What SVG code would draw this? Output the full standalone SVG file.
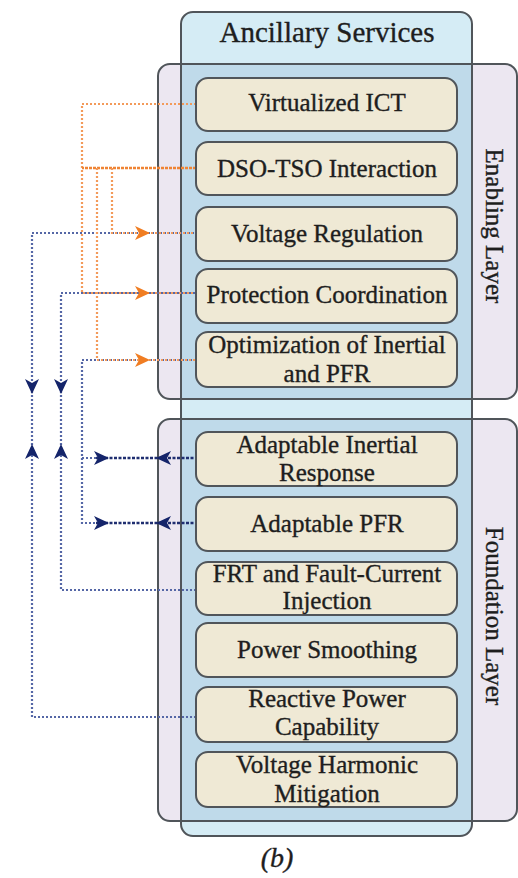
<svg xmlns="http://www.w3.org/2000/svg" xmlns:xlink="http://www.w3.org/1999/xlink" width="518" height="878" viewBox="0 0 518 878" font-family="Liberation Serif, serif">
  <style>
    .lbl { font-family: "Liberation Serif", serif; font-size: 25px; text-anchor: middle; fill: #1e1e1e; stroke: #1e1e1e; stroke-width: 0.35; }
    .node rect { fill: #efe9d5; stroke: #50555a; stroke-width: 2; }
    .frame { fill: none; stroke: #50555a; stroke-width: 2; }
    .orange { fill: none; stroke: #f39a5a; stroke-width: 2.2; stroke-dasharray: 2 2; }
    .orange-dense { fill: none; stroke: #ef8434; stroke-width: 2.4; stroke-dasharray: 3 1; }
    .blue { fill: none; stroke: #5567a6; stroke-width: 2.2; stroke-dasharray: 2 2; }
    .blue-dark { fill: none; stroke: #1f2e70; stroke-width: 2.4; stroke-dasharray: 3 1.5; }
    .ah-o { fill: #f07d22; }
    .ah-b { fill: #14246a; }
  </style>
  <defs>
    <!-- notched arrowhead, tip at origin, pointing +x -->
    <path id="ah" d="M0,0 L-15,-7 L-11,0 L-15,7 Z"/>
  </defs>

  <!-- container boxes -->
  <g id="ancillary-services">
    <rect x="181" y="12" width="291" height="824" rx="12" fill="#d5ecf5"/>
  </g>
  <g id="enabling-layer">
    <rect x="158" y="64" width="359" height="335" rx="12" fill="#ece7f1"/>
    <rect x="181" y="64" width="291" height="335" fill="#bfdaea"/>
    <rect x="158" y="64" width="359" height="335" rx="12" class="frame"/>
    <text class="lbl" transform="translate(486,226) rotate(90)">Enabling Layer</text>
  </g>
  <g id="foundation-layer">
    <rect x="158" y="419" width="359" height="402" rx="12" fill="#ece7f1"/>
    <rect x="181" y="419" width="291" height="402" fill="#bfdaea"/>
    <rect x="158" y="419" width="359" height="402" rx="12" class="frame"/>
    <text class="lbl" transform="translate(486,616) rotate(90)">Foundation Layer</text>
  </g>
  <g id="ancillary-frame">
    <rect x="181" y="12" width="291" height="824" rx="12" class="frame"/>
    <text class="lbl" x="327" y="42" style="font-size:29px">Ancillary Services</text>
  </g>

  <!-- connectors -->
  <g id="connectors">
    <!-- foundation to enabling links -->
    <path class="blue" d="M196,717 H32 V233 H196"/>
    <path class="blue" d="M196,590 H61 V293 H196"/>
    <path class="blue" d="M196,360 H82 V523 H96"/>
    <path class="blue" d="M82,458 H96"/>
    <path class="blue-dark" d="M96,458 H196"/>
    <path class="blue-dark" d="M96,523 H196"/>
    <!-- ICT / DSO-TSO links -->
    <path class="orange" d="M196,104 H82 V293 H196"/>
    <path class="orange-dense" d="M196,168 H82"/>
    <path class="orange" d="M97,168 V360 H196"/>
    <path class="orange" d="M112,168 V233 H196"/>

    <!-- arrowheads -->
    <use xlink:href="#ah" class="ah-o" transform="translate(150,233)"/>
    <use xlink:href="#ah" class="ah-o" transform="translate(150,293)"/>
    <use xlink:href="#ah" class="ah-o" transform="translate(150,360)"/>
    <use xlink:href="#ah" class="ah-b" transform="translate(32,394) rotate(90)"/>
    <use xlink:href="#ah" class="ah-b" transform="translate(61,394) rotate(90)"/>
    <use xlink:href="#ah" class="ah-b" transform="translate(32,444) rotate(-90)"/>
    <use xlink:href="#ah" class="ah-b" transform="translate(61,444) rotate(-90)"/>
    <use xlink:href="#ah" class="ah-b" transform="translate(109,458)"/>
    <use xlink:href="#ah" class="ah-b" transform="translate(109,523)"/>
    <use xlink:href="#ah" class="ah-b" transform="translate(156,458) rotate(180)"/>
    <use xlink:href="#ah" class="ah-b" transform="translate(156,523) rotate(180)"/>
  </g>

  <!-- enabling layer services -->
  <g id="virtualized-ict" class="node">
    <rect x="196" y="78" width="261" height="53" rx="12"/>
    <text class="lbl" x="327" y="111">Virtualized ICT</text>
  </g>
  <g id="dso-tso-interaction" class="node">
    <rect x="196" y="142" width="261" height="53" rx="12"/>
    <text class="lbl" x="327" y="177">DSO-TSO Interaction</text>
  </g>
  <g id="voltage-regulation" class="node">
    <rect x="196" y="207" width="261" height="54" rx="12"/>
    <text class="lbl" x="327" y="242">Voltage Regulation</text>
  </g>
  <g id="protection-coordination" class="node">
    <rect x="196" y="269" width="261" height="54" rx="12"/>
    <text class="lbl" x="327" y="303">Protection Coordination</text>
  </g>
  <g id="optimization-inertial-pfr" class="node">
    <rect x="196" y="332" width="261" height="55" rx="12"/>
    <text class="lbl" x="327" y="353">Optimization of Inertial</text>
    <text class="lbl" x="327" y="382">and PFR</text>
  </g>

  <!-- foundation layer services -->
  <g id="adaptable-inertial-response" class="node">
    <rect x="196" y="432" width="261" height="54" rx="12"/>
    <text class="lbl" x="327" y="453">Adaptable Inertial</text>
    <text class="lbl" x="327" y="481">Response</text>
  </g>
  <g id="adaptable-pfr" class="node">
    <rect x="196" y="497" width="261" height="54" rx="12"/>
    <text class="lbl" x="327" y="532">Adaptable PFR</text>
  </g>
  <g id="frt-fault-current" class="node">
    <rect x="196" y="562" width="261" height="53" rx="12"/>
    <text class="lbl" x="327" y="582">FRT and Fault-Current</text>
    <text class="lbl" x="327" y="609">Injection</text>
  </g>
  <g id="power-smoothing" class="node">
    <rect x="196" y="623" width="261" height="54" rx="12"/>
    <text class="lbl" x="327" y="658">Power Smoothing</text>
  </g>
  <g id="reactive-power-capability" class="node">
    <rect x="196" y="687" width="261" height="55" rx="12"/>
    <text class="lbl" x="327" y="707">Reactive Power</text>
    <text class="lbl" x="327" y="735">Capability</text>
  </g>
  <g id="voltage-harmonic-mitigation" class="node">
    <rect x="196" y="752" width="261" height="55" rx="12"/>
    <text class="lbl" x="327" y="773">Voltage Harmonic</text>
    <text class="lbl" x="327" y="802">Mitigation</text>
  </g>

  <text class="lbl" x="277" y="867" style="font-size:28px;font-style:italic">(b)</text>
</svg>
